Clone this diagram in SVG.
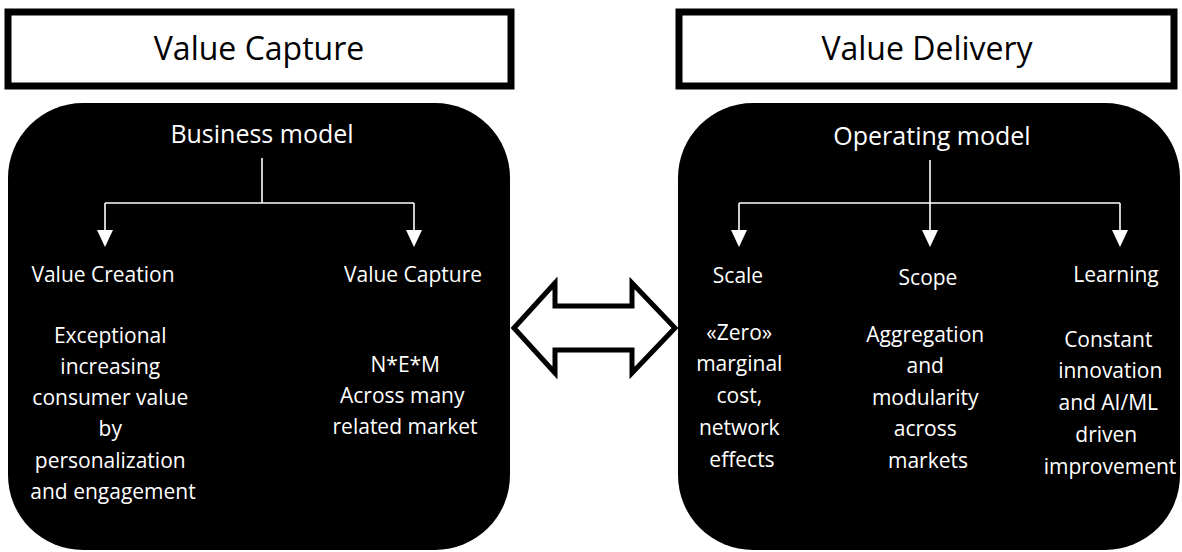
<svg xmlns="http://www.w3.org/2000/svg" width="1182" height="552" viewBox="0 0 1182 552">
  <defs>
    <style>
      .title { fill: #ffffff; stroke: #000000; stroke-width: 7; }
      .title-text { font-family: "Open Sans", "Liberation Sans", sans-serif; font-size: 32px; fill: #000000; text-anchor: middle; }
      .panel { fill: #000000; }
      .head { font-family: "Open Sans", "Liberation Sans", sans-serif; font-size: 25px; fill: #ffffff; text-anchor: middle; }
      .sub { font-family: "Open Sans", "Liberation Sans", sans-serif; font-size: 21px; fill: #ffffff; text-anchor: middle; }
      .body { font-family: "Open Sans", "Liberation Sans", sans-serif; font-size: 21px; fill: #ffffff; text-anchor: middle; }
      .link { fill: none; stroke: #ffffff; stroke-width: 1.6; }
      .swap { fill: #ffffff; stroke: #000000; stroke-width: 5; stroke-linejoin: miter; stroke-miterlimit: 10; }
    </style>
    <marker id="tri" viewBox="0 -8 17 16" refX="0" refY="0" markerWidth="17" markerHeight="16" markerUnits="userSpaceOnUse" orient="auto">
      <path d="M0,-8 L17,0 L0,8 Z" fill="#ffffff"/>
    </marker>
  </defs>

  <rect width="1182" height="552" fill="#ffffff"/>

  <!-- Title boxes -->
  <g id="title-capture">
    <rect class="title" x="8" y="12" width="503" height="74"/>
    <text class="title-text" x="259" y="60">Value Capture</text>
  </g>
  <g id="title-delivery">
    <rect class="title" x="679" y="12" width="495" height="74"/>
    <text class="title-text" x="927" y="60">Value Delivery</text>
  </g>

  <!-- Business model panel -->
  <g id="business-model">
    <rect class="panel" x="8" y="103" width="502" height="447" rx="75" ry="75"/>
    <text class="head" x="262" y="143">Business model</text>
  </g>
  <g id="value-creation">
    <text class="sub" x="103" y="282">Value Creation</text>
    <text class="body" x="113">
      <tspan x="113" y="343">Exceptional</tspan>
      <tspan x="113" y="374">increasing</tspan>
      <tspan x="113" y="405">consumer value</tspan>
      <tspan x="113" y="436">by</tspan>
      <tspan x="113" y="468">personalization</tspan>
      <tspan x="113" y="499">and engagement</tspan>
    </text>
  </g>
  <g id="value-capture">
    <text class="sub" x="413" y="282">Value Capture</text>
    <text class="body" x="405">
      <tspan x="408" y="372">N*E*M</tspan>
      <tspan x="405" y="403">Across many</tspan>
      <tspan x="405" y="434">related market</tspan>
    </text>
  </g>

  <!-- Operating model panel -->
  <g id="operating-model">
    <rect class="panel" x="678" y="103" width="502" height="447" rx="75" ry="75"/>
    <text class="head" x="932" y="145">Operating model</text>
  </g>
  <g id="scale">
    <text class="sub" x="738" y="283">Scale</text>
    <text class="body" x="742">
      <tspan x="742" y="340">«Zero»</tspan>
      <tspan x="742" y="371">marginal</tspan>
      <tspan x="742" y="403">cost,</tspan>
      <tspan x="742" y="435">network</tspan>
      <tspan x="742" y="467">effects</tspan>
    </text>
  </g>
  <g id="scope">
    <text class="sub" x="928" y="285">Scope</text>
    <text class="body" x="928">
      <tspan x="928" y="342">Aggregation</tspan>
      <tspan x="928" y="373">and</tspan>
      <tspan x="928" y="405">modularity</tspan>
      <tspan x="928" y="436">across</tspan>
      <tspan x="928" y="468">markets</tspan>
    </text>
  </g>
  <g id="learning">
    <text class="sub" x="1116" y="282">Learning</text>
    <text class="body" x="1111">
      <tspan x="1111" y="347">Constant</tspan>
      <tspan x="1113" y="378">innovation</tspan>
      <tspan x="1111" y="410">and AI/ML</tspan>
      <tspan x="1109" y="442">driven</tspan>
      <tspan x="1110" y="474">improvement</tspan>
    </text>
  </g>

  <!-- Connectors -->
  <g id="connectors">
    <path class="link" d="M262,158 V203"/>
    <path class="link" d="M105,203 H414"/>
    <path class="link" d="M105,203 V230" marker-end="url(#tri)"/>
    <path class="link" d="M414,203 V230" marker-end="url(#tri)"/>

    <path class="link" d="M739,203 H1120"/>
    <path class="link" d="M930,160 V230" marker-end="url(#tri)"/>
    <path class="link" d="M739,203 V230" marker-end="url(#tri)"/>
    <path class="link" d="M1120,203 V230" marker-end="url(#tri)"/>

    <!-- two-way arrow linking the panels -->
    <polygon class="swap" points="514,328 555,283 555,306 632,306 632,283 675,328 632,373 632,350 555,350 555,373"/>
  </g>
</svg>
